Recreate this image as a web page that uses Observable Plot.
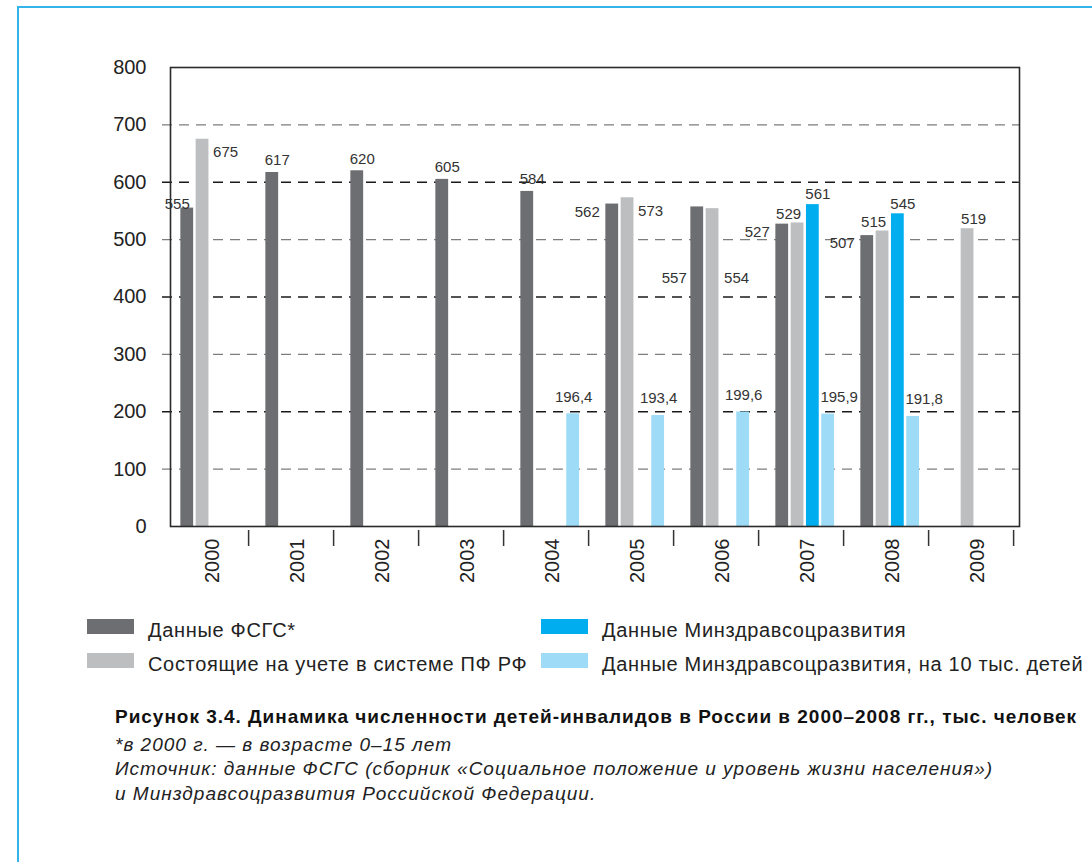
<!DOCTYPE html>
<html><head><meta charset="utf-8">
<script src="https://cdn.jsdelivr.net/npm/d3@7"></script>
<script src="https://cdn.jsdelivr.net/npm/@observablehq/plot@0.6"></script>
<style>
html,body{margin:0;padding:0;background:#fff;width:1092px;height:862px;overflow:hidden;font-family:"Liberation Sans",Arial,Helvetica,sans-serif;color:#222}
#chart{position:absolute;left:0;top:0}
#border{position:absolute;left:17px;top:6px;width:1200px;height:1000px;border-top:2px solid #33b5e9;border-left:2px solid #33b5e9;pointer-events:none}
.lg{position:absolute;font-size:20px;line-height:20px;white-space:nowrap;color:#222;letter-spacing:0.68px}
.sw{position:absolute;width:47px;height:15px}
#caption{position:absolute;left:115px;top:705px;font-size:19px;line-height:24.5px;white-space:nowrap;color:#111;letter-spacing:1px}
#caption .t{font-weight:bold;letter-spacing:0.98px;margin-bottom:3px}
#caption .n{font-style:italic;color:#222}
</style></head><body>
<div id="chart"></div>
<div id="legend"></div>
<div id="caption"></div>
<div id="border"></div>
<script>
// ---- data ----
const years = ["2000","2001","2002","2003","2004","2005","2006","2007","2008","2009"];
const fsgs  = [555, 617, 620, 605, 584, 562, 557, 527, 507, null];
const pfrf  = [675, null, null, null, null, 573, 554, 529, 515, 519];
const mzsr  = [null, null, null, null, null, null, null, 561, 545, null];
const mz10  = [null, null, null, null, 196.4, 193.4, 199.6, 195.9, 191.8, null];
const seriesNames = ["Данные ФСГС*", "Состоящие на учете в системе ПФ РФ", "Данные Минздравсоцразвития", "Данные Минздравсоцразвития, на 10 тыс. детей"];
const seriesColors = ["#6d6e71", "#bcbec0", "#00aeef", "#9edbf6"];
const yTicks = [0, 100, 200, 300, 400, 500, 600, 700, 800];
const gridDark = [200, 400, 600];
const gridLight = [100, 300, 500, 700];
const captionTitle = "Рисунок 3.4. Динамика численности детей-инвалидов в России в 2000–2008 гг., тыс. человек";
const captionNotes = ["*в 2000 г. — в возрасте 0–15 лет", "Источник: данные ФСГС (сборник «Социальное положение и уровень жизни населения»)", "и Минздравсоцразвития Российской Федерации."];

const rows = (vals, s) => years.map((year, i) => ({year, value: vals[i], series: seriesNames[s]})).filter(d => d.value != null);
const dFsgs = rows(fsgs, 0), dPf = rows(pfrf, 1), dMz = rows(mzsr, 2), dMz10 = rows(mz10, 3);
const fmt = v => (v % 1 ? v.toFixed(1).replace(".", ",") : String(v));

// ---- layout ----
const W = 1092, H = 600;
const mL = 161.5, mR = 78.5, mT = 67, mB = 74;
const B = (W - mL - mR) / years.length;          // band width
const slotLeft = [17.35, 32.65, 47.95, 63.25];   // bar offsets within band
const barW = 13;
const inset = i => ({insetLeft: slotLeft[i], insetRight: B - slotLeft[i] - barW});
const cx = i => slotLeft[i] + barW / 2 - B / 2;   // bar center rel. to band center
const leftEdge = i => slotLeft[i] - B / 2;
const rightEdge = i => slotLeft[i] + barW - B / 2;

const lab = (data, yrs, o) => Plot.text(data, {x: "year", y: "value", text: d => fmt(d.value),
  filter: d => yrs.includes(d.year), fontSize: 15, fill: "#333", ...o});

const chart = Plot.plot({
  width: W, height: H,
  marginLeft: mL, marginRight: mR, marginTop: mT, marginBottom: mB,
  style: {fontFamily: '"Liberation Sans", Arial, Helvetica, sans-serif', background: "transparent", overflow: "visible"},
  x: {type: "band", domain: years, padding: 0},
  y: {domain: [0, 800]},
  color: {domain: seriesNames, range: seriesColors},
  marks: [
    Plot.ruleY(gridLight, {stroke: "#7d7d7d", strokeWidth: 1.3, strokeDasharray: "10,7", insetLeft: 0.5, insetRight: -5.5}),
    Plot.ruleY(gridDark, {stroke: "#1a1a1a", strokeWidth: 1.3, strokeDasharray: "10,7", insetLeft: 0.5, insetRight: -5.5}),
    Plot.barY(dFsgs, {x: "year", y: "value", fill: "series", ...inset(0)}),
    Plot.barY(dPf, {x: "year", y: "value", fill: "series", ...inset(1)}),
    Plot.barY(dMz, {x: "year", y: "value", fill: "series", ...inset(2)}),
    Plot.barY(dMz10, {x: "year", y: "value", fill: "series", ...inset(3)}),
    Plot.frame({stroke: "#2a2a2a", strokeWidth: 1.6, insetLeft: 8.5, insetRight: -5.5}),
    Plot.axisY({ticks: yTicks, tickSize: 0, tickPadding: 15.5, fontSize: 20, fill: "#222", label: null}),
    Plot.axisX({tickSize: 0, tickRotate: -90, tickPadding: 12, fontSize: 20, fill: "#222", label: null, dx: 7}),
    Plot.axisX({tickSize: 16, tickFormat: () => "", stroke: "#333", strokeWidth: 1.5, dx: B / 2, dy: 4, label: null}),
    // value labels
    lab(dFsgs, ["2001","2002","2003","2004"], {dx: cx(0) + 5, dy: -12}),
    lab(dFsgs, ["2000"], {dx: cx(0) - 10, dy: -4}),
    lab(dFsgs, ["2005","2007","2008"], {textAnchor: "end", dx: leftEdge(0) - 6, dy: 8}),
    lab(dFsgs, ["2006"], {textAnchor: "end", dx: leftEdge(0) - 4, dy: 71}),
    lab(dPf, ["2000","2005"], {textAnchor: "start", dx: rightEdge(1) + 4, dy: 13}),
    lab(dPf, ["2006"], {textAnchor: "start", dx: rightEdge(1) + 5, dy: 70}),
    lab(dPf, ["2007","2008"], {dx: cx(1) - 9, dy: -9}),
    lab(dPf, ["2009"], {dx: cx(1) + 6, dy: -10}),
    lab(dMz, ["2007","2008"], {dx: cx(2) + 5, dy: -10}),
    lab(dMz10, ["2004","2005","2006"], {dx: cx(3) + 0.5, dy: -17}),
    lab(dMz10, ["2007","2008"], {dx: cx(3) + 11, dy: -17})
  ]
});
document.getElementById("chart").appendChild(chart);

// ---- legend (HTML) ----
const legend = document.getElementById("legend");
const pos = [[87, 619], [87, 653], [541, 619], [541, 653]];
seriesNames.forEach((name, i) => {
  const sw = document.createElement("div");
  sw.className = "sw";
  sw.style.left = pos[i][0] + "px"; sw.style.top = pos[i][1] + "px";
  sw.style.background = seriesColors[i];
  legend.appendChild(sw);
  const t = document.createElement("div");
  t.className = "lg";
  t.style.left = (pos[i][0] + 61) + "px"; t.style.top = (pos[i][1] + 1) + "px";
  t.textContent = name;
  legend.appendChild(t);
});

// ---- caption ----
const cap = document.getElementById("caption");
const t0 = document.createElement("div"); t0.className = "t"; t0.textContent = captionTitle; cap.appendChild(t0);
captionNotes.forEach(s => { const d = document.createElement("div"); d.className = "n"; d.textContent = s; cap.appendChild(d); });
</script>
</body></html>
